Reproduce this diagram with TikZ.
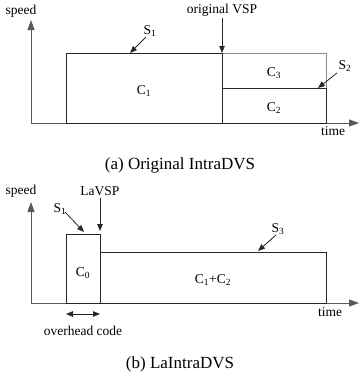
\documentclass[tikz,border=0pt]{standalone}
\usepackage{fontspec}
\setmainfont{Liberation Serif}
\usetikzlibrary{arrows.meta}
\begin{document}
\begin{tikzpicture}[x=1pt,y=-1pt,
  lbl/.style={font=\fontsize{13.5}{15}\selectfont, inner sep=0pt},
  captext/.style={font=\fontsize{17}{19}\selectfont, inner sep=0pt},
  axis/.style={draw=black!65, line width=0.9pt, -{Triangle[length=10pt,width=7pt]}},
  box/.style={draw=black!85, line width=1pt, inner sep=0pt},
  gbox/.style={draw=black!45, line width=0.8pt},
  ptr/.style={draw=black!85, line width=0.8pt, -{Triangle[length=7pt,width=5.5pt]}},
  dptr/.style={draw=black!85, line width=0.8pt, {Triangle[length=7pt,width=5.5pt]}-{Triangle[length=7pt,width=5.5pt]}}]
\useasboundingbox (0,0) rectangle (360,381);
% ---------- (a) ----------
\coordinate (oa) at (31,123);
\coordinate (ya) at (31,20);
\coordinate (xa) at (359,123);
\draw[axis] (oa) -- (ya);
\draw[axis] (oa) -- (xa);
\node[lbl] (speeda) at (21,11) {speed};
\node[lbl] (timea) at (333,131) {time};
\draw[gbox] (222,53) rectangle (326,88);
\node[box, minimum width=104pt, minimum height=35pt, anchor=north west] (c2) at (222,88) {};
\node[box, minimum width=156pt, minimum height=70pt, anchor=north west] (c1) at (66,53) {};
\node[lbl] (c1t) at (144,91) {C\textsubscript{1}};
\node[lbl] (c3t) at (274,73) {C\textsubscript{3}};
\node[lbl] (c2t) at (274,108) {C\textsubscript{2}};
\node[lbl] (vsp) at (222,10) {original VSP};
\coordinate (vsptip) at (222,53);
\draw[ptr] (vsp.south) ++(0,2) -- (vsptip);
\node[lbl] (s1a) at (150,31) {S\textsubscript{1}};
\coordinate (s1atip) at (130,53);
\draw[ptr] (146,37) -- (s1atip);
\node[lbl] (s2a) at (345,66) {S\textsubscript{2}};
\coordinate (s2atip) at (318,88);
\draw[ptr] (337,73) -- (s2atip);
\node[captext] (capa) at (180,165) {(a) Original IntraDVS};
% ---------- (b) ----------
\coordinate (ob) at (31,303);
\coordinate (yb) at (31,202);
\coordinate (xb) at (359,303);
\draw[axis] (ob) -- (yb);
\draw[axis] (ob) -- (xb);
\node[lbl] (speedb) at (21,191) {speed};
\node[lbl] (timeb) at (330,312) {time};
\node[box, minimum width=34pt, minimum height=69pt, anchor=north west] (c0) at (66,234) {};
\node[box, minimum width=226pt, minimum height=51pt, anchor=north west] (c12) at (100,252) {};
\node[lbl] (c0t) at (83,273) {C\textsubscript{0}};
\node[lbl] (c12t) at (213,280) {C\textsubscript{1}+C\textsubscript{2}};
\node[lbl] (lavsp) at (100,191) {LaVSP};
\coordinate (lavsptip) at (100,231);
\draw[ptr] (100,198) -- (lavsptip);
\node[lbl] (s1b) at (60,209) {S\textsubscript{1}};
\coordinate (s1btip) at (84,232);
\draw[ptr] (65,212) -- (s1btip);
\node[lbl] (s3b) at (278,229) {S\textsubscript{3}};
\coordinate (s3btip) at (258,251);
\draw[ptr] (276,235) -- (s3btip);
\coordinate (ova) at (66,314);
\coordinate (ovb) at (100,314);
\draw[dptr] (ova) -- (ovb);
\node[lbl] (ovh) at (83,331) {overhead code};
\node[captext] (capb) at (180,364) {(b) LaIntraDVS};
\end{tikzpicture}
\end{document}
